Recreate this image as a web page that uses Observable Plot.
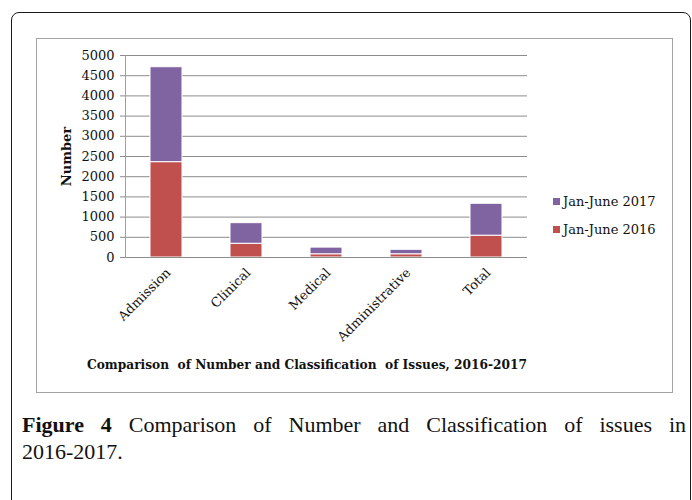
<!DOCTYPE html>
<html>
<head>
<meta charset="utf-8">
<script src="https://cdn.jsdelivr.net/npm/d3@7"></script>
<script src="https://cdn.jsdelivr.net/npm/@observablehq/plot@0.6"></script>
<style>
  body { margin: 0; background: #fff; }
  #page { position: relative; width: 692px; height: 500px; overflow: hidden; background: #fff; }
  #outer { position: absolute; left: 11px; top: 12px; width: 680px; height: 520px;
           border: 1.5px solid #1a1a1a; border-radius: 8px; box-sizing: border-box; }
  #box { position: absolute; left: 36px; top: 38px; width: 637px; height: 355px;
         border: 1px solid #a3a3a3; box-sizing: border-box; }
  #chart { position: absolute; left: 0; top: 0; }
  #title { position: absolute; left: 87px; top: 358px; font: bold 12.2px "DejaVu Serif", serif;
           white-space: pre; color: #111; }
  .leg { position: absolute; left: 553px; font: 13px "DejaVu Serif", serif; color: #111;
         display: flex; align-items: center; white-space: nowrap; }
  .sw { width: 7px; height: 7px; margin-right: 3px; }
  #caption { position: absolute; left: 22px; width: 664px; top: 411px;
             font: 22px "Liberation Serif", "Times New Roman", serif; line-height: 27px;
             text-align: justify; color: #111; }
  #caption .nb { white-space: nowrap; }
</style>
</head>
<body>
<div id="page">
  <div id="outer"></div>
  <div id="box"></div>
  <div id="chart"></div>
  <div id="legend"></div>
  <div id="title"></div>
  <div id="caption"></div>
</div>
<script>
// Issue counts by classification, first half of each year
const categories = ["Admission", "Clinical", "Medical", "Administrative", "Total"];
const series = ["Jan-June 2016", "Jan-June 2017"];
const jan2016 = [2360, 340, 80, 80, 540];
const jan2017 = [2350, 510, 165, 110, 790];
const yTicks = [0, 500, 1000, 1500, 2000, 2500, 3000, 3500, 4000, 4500, 5000];
const colors = ["#C0504D", "#8064A2"];
const chartTitle = "Comparison  of Number and Classification  of Issues, 2016-2017";

// long format: 2016 listed first so it stacks at the bottom
const rows = [];
categories.forEach((c, i) => {
  rows.push({category: c, series: series[0], value: jan2016[i]});
  rows.push({category: c, series: series[1], value: jan2017[i]});
});

const font = "DejaVu Serif, serif";

const chart = Plot.plot({
  width: 692,
  height: 400,
  marginLeft: 125,
  marginRight: 165,
  marginTop: 55,
  marginBottom: 143,
  style: {fontFamily: font, fontSize: "13px", color: "#111", background: "transparent"},
  x: {domain: categories, paddingInner: 0.6, paddingOuter: 0.3, label: null},
  y: {domain: [0, 5000], ticks: yTicks, label: null},
  color: {domain: series, range: colors},
  marks: [
    Plot.gridY(yTicks, {stroke: "#8c8c8c", strokeOpacity: 1}),
    Plot.barY(rows, {x: "category", y: "value", fill: "series", stroke: "#fff", strokeWidth: 1}),
    Plot.ruleY([0], {stroke: "#8c8c8c"}),
    Plot.frame({anchor: "left", stroke: "#a0a0a0"}),
    Plot.axisY(yTicks, {tickSize: 5, tickPadding: 6, stroke: "#8c8c8c", label: null,
                        fontSize: 13, tickFormat: d => String(d)}),
    Plot.axisX({tickSize: 0, tickPadding: 13, tickRotate: -45, dx: 2, label: null, fontSize: 13}),
    Plot.text(["Number"], {frameAnchor: "left", dx: -59, rotate: -90, fontWeight: "bold",
                           fontSize: 13, textAnchor: "middle", lineAnchor: "middle"})
  ]
});
document.getElementById("chart").appendChild(chart);

// legend, newest series on top
const legend = document.getElementById("legend");
[[1, 194], [0, 222]].forEach(([i, top]) => {
  const row = document.createElement("div");
  row.className = "leg";
  row.style.top = top + "px";
  const sw = document.createElement("span");
  sw.className = "sw";
  sw.style.background = colors[i];
  row.appendChild(sw);
  row.appendChild(document.createTextNode(series[i]));
  legend.appendChild(row);
});

document.getElementById("title").textContent = chartTitle;
document.getElementById("caption").innerHTML =
  "<b>Figure 4</b> Comparison of Number and Classification of issues in <span class=\"nb\">2016-2017.</span>";
</script>
</body>
</html>
